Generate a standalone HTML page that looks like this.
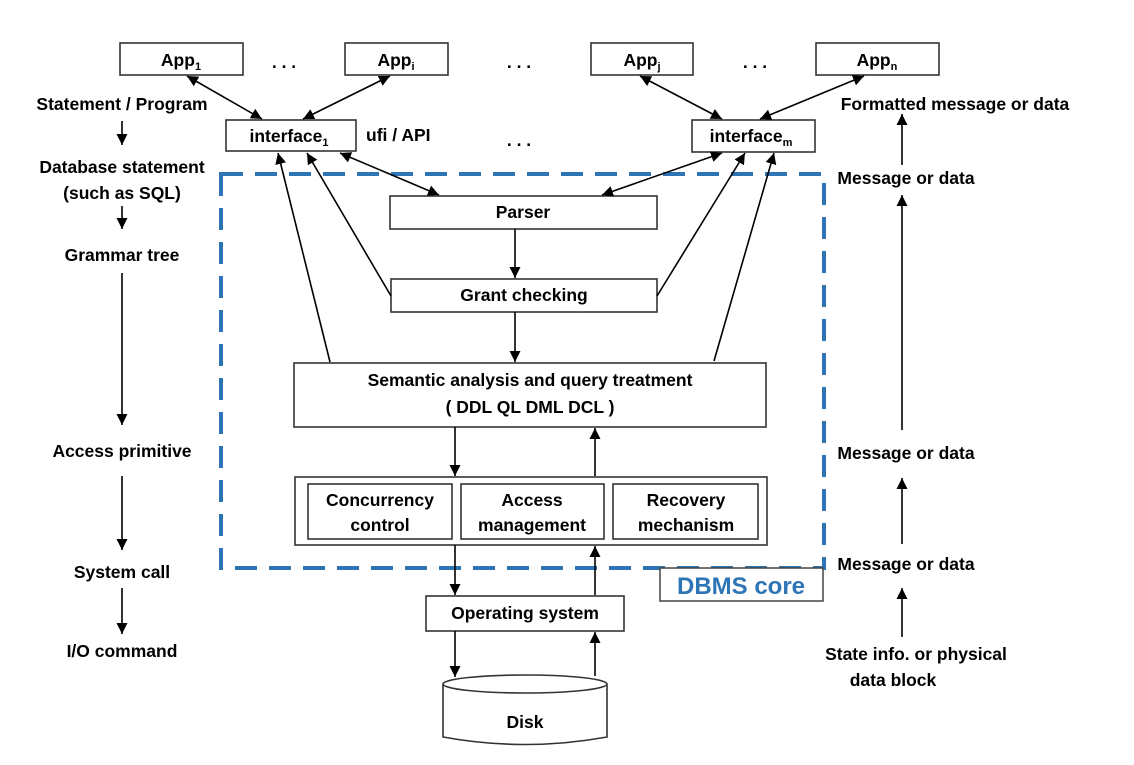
<!DOCTYPE html>
<html><head><meta charset="utf-8"><style>
html,body{margin:0;padding:0;background:#fff;}
svg{display:block;}
text{font-family:"Liberation Sans",Arial,sans-serif;font-weight:bold;font-size:17.5px;fill:#000;}
.b{fill:#fff;stroke:#333;stroke-width:1.6;}
.l{stroke:#000;stroke-width:1.6;fill:none;}
</style></head><body>
<svg width="1134" height="765" viewBox="0 0 1134 765" xmlns="http://www.w3.org/2000/svg">
<defs>
<marker id="a" viewBox="0 0 10 10" refX="10" refY="5" markerWidth="11" markerHeight="11" markerUnits="userSpaceOnUse" orient="auto-start-reverse"><path d="M0,0 L10,5 L0,10 z" fill="#000"/></marker>
</defs>
<rect x="221" y="174" width="603" height="394" fill="none" stroke="#2e75b6" stroke-width="4" stroke-dasharray="22,12"/>
<rect x="660" y="568" width="163" height="33" fill="#fff" stroke="#444" stroke-width="1.5"/>
<text x="741" y="594" text-anchor="middle" style="font-weight:600;font-size:24px;fill:#2e75b6">DBMS core</text>

<rect class="b" x="120" y="43" width="123" height="32"/><text x="181" y="66" text-anchor="middle">App<tspan font-size="11" dy="4">1</tspan></text>
<rect class="b" x="345" y="43" width="103" height="32"/><text x="396" y="66" text-anchor="middle">App<tspan font-size="11" dy="4">i</tspan></text>
<rect class="b" x="591" y="43" width="102" height="32"/><text x="642" y="66" text-anchor="middle">App<tspan font-size="11" dy="4">j</tspan></text>
<rect class="b" x="816" y="43" width="123" height="32"/><text x="877" y="66" text-anchor="middle">App<tspan font-size="11" dy="4">n</tspan></text>
<text x="284" y="68" text-anchor="middle">. . .</text>
<text x="519" y="68" text-anchor="middle">. . .</text>
<text x="755" y="68" text-anchor="middle">. . .</text>
<text x="519" y="146" text-anchor="middle">. . .</text>

<rect class="b" x="226" y="120" width="130" height="31"/><text x="289" y="142" text-anchor="middle">interface<tspan font-size="11" dy="4">1</tspan></text>
<text x="366" y="141">ufi / API</text>
<rect class="b" x="692" y="120" width="123" height="32"/><text x="751" y="142" text-anchor="middle">interface<tspan font-size="11" dy="4">m</tspan></text>

<rect class="b" x="390" y="196" width="267" height="33"/><text x="523" y="218" text-anchor="middle">Parser</text>
<rect class="b" x="391" y="279" width="266" height="33"/><text x="524" y="301" text-anchor="middle">Grant checking</text>
<rect class="b" x="294" y="363" width="472" height="64"/>
<text x="530" y="386" text-anchor="middle">Semantic analysis and query treatment</text>
<text x="530" y="413" text-anchor="middle">( DDL  QL  DML  DCL )</text>

<rect class="b" x="295" y="477" width="472" height="68"/>
<rect class="b" x="308" y="484" width="144" height="55"/>
<rect class="b" x="461" y="484" width="143" height="55"/>
<rect class="b" x="613" y="484" width="145" height="55"/>
<text x="380" y="506" text-anchor="middle">Concurrency</text><text x="380" y="531" text-anchor="middle">control</text>
<text x="532" y="506" text-anchor="middle">Access</text><text x="532" y="531" text-anchor="middle">management</text>
<text x="686" y="506" text-anchor="middle">Recovery</text><text x="686" y="531" text-anchor="middle">mechanism</text>

<rect class="b" x="426" y="596" width="198" height="35"/><text x="525" y="619" text-anchor="middle">Operating system</text>

<path d="M443,684 L443,737 Q525,752 607,737 L607,684" fill="#fff" stroke="#333" stroke-width="1.6"/>
<ellipse cx="525" cy="684" rx="82" ry="9" fill="#fff" stroke="#333" stroke-width="1.6"/>
<text x="525" y="728" text-anchor="middle">Disk</text>

<line class="l" x1="187" y1="76" x2="262" y2="119" marker-start="url(#a)" marker-end="url(#a)"/>
<line class="l" x1="390" y1="76" x2="303" y2="119" marker-start="url(#a)" marker-end="url(#a)"/>
<line class="l" x1="640" y1="76" x2="722" y2="119" marker-start="url(#a)" marker-end="url(#a)"/>
<line class="l" x1="864" y1="76" x2="760" y2="119" marker-start="url(#a)" marker-end="url(#a)"/>
<line class="l" x1="340" y1="153" x2="439" y2="195" marker-start="url(#a)" marker-end="url(#a)"/>
<line class="l" x1="722" y1="153" x2="602" y2="195" marker-start="url(#a)" marker-end="url(#a)"/>
<line class="l" x1="330" y1="362" x2="278" y2="153" marker-end="url(#a)"/>
<line class="l" x1="391" y1="296" x2="307" y2="153" marker-end="url(#a)"/>
<line class="l" x1="657" y1="296" x2="745" y2="153" marker-end="url(#a)"/>
<line class="l" x1="714" y1="361" x2="774" y2="153" marker-end="url(#a)"/>
<line class="l" x1="515" y1="229" x2="515" y2="278" marker-end="url(#a)"/>
<line class="l" x1="515" y1="312" x2="515" y2="362" marker-end="url(#a)"/>
<line class="l" x1="455" y1="427" x2="455" y2="476" marker-end="url(#a)"/>
<line class="l" x1="595" y1="476" x2="595" y2="428" marker-end="url(#a)"/>
<line class="l" x1="455" y1="545" x2="455" y2="595" marker-end="url(#a)"/>
<line class="l" x1="595" y1="595" x2="595" y2="546" marker-end="url(#a)"/>
<line class="l" x1="455" y1="631" x2="455" y2="677" marker-end="url(#a)"/>
<line class="l" x1="595" y1="676" x2="595" y2="632" marker-end="url(#a)"/>

<text x="122" y="110" text-anchor="middle">Statement / Program</text>
<line class="l" x1="122" y1="121" x2="122" y2="145" marker-end="url(#a)"/>
<text x="122" y="173" text-anchor="middle">Database statement</text>
<text x="122" y="199" text-anchor="middle">(such as SQL)</text>
<line class="l" x1="122" y1="206" x2="122" y2="229" marker-end="url(#a)"/>
<text x="122" y="261" text-anchor="middle">Grammar tree</text>
<line class="l" x1="122" y1="273" x2="122" y2="425" marker-end="url(#a)"/>
<text x="122" y="457" text-anchor="middle">Access primitive</text>
<line class="l" x1="122" y1="476" x2="122" y2="550" marker-end="url(#a)"/>
<text x="122" y="578" text-anchor="middle">System call</text>
<line class="l" x1="122" y1="588" x2="122" y2="634" marker-end="url(#a)"/>
<text x="122" y="657" text-anchor="middle">I/O command</text>

<text x="955" y="110" text-anchor="middle">Formatted message or data</text>
<line class="l" x1="902" y1="165" x2="902" y2="114" marker-end="url(#a)"/>
<text x="906" y="184" text-anchor="middle">Message or data</text>
<line class="l" x1="902" y1="430" x2="902" y2="195" marker-end="url(#a)"/>
<text x="906" y="459" text-anchor="middle">Message or data</text>
<line class="l" x1="902" y1="544" x2="902" y2="478" marker-end="url(#a)"/>
<text x="906" y="570" text-anchor="middle">Message or data</text>
<line class="l" x1="902" y1="637" x2="902" y2="588" marker-end="url(#a)"/>
<text x="916" y="660" text-anchor="middle">State info. or physical</text>
<text x="893" y="686" text-anchor="middle">data block</text>
</svg>
</body></html>
